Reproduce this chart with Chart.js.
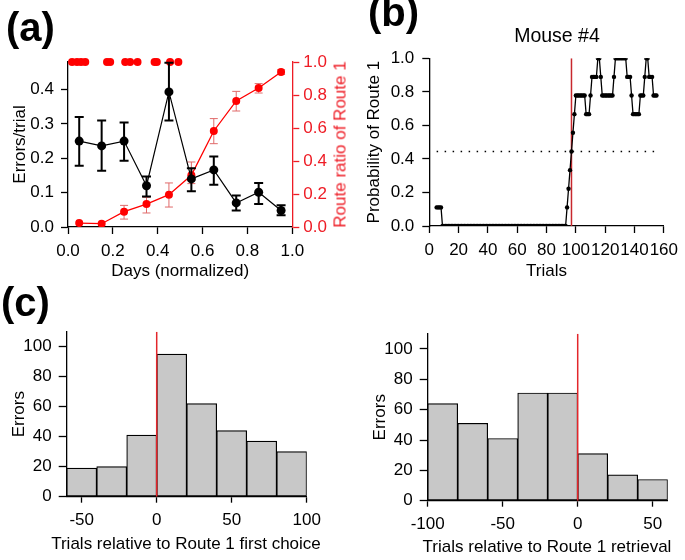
<!DOCTYPE html>
<html>
<head>
<meta charset="utf-8">
<script src="https://cdn.jsdelivr.net/npm/chart.js@4.4.0/dist/chart.umd.min.js"></script>
<style>
  body { margin: 0; background: #fff; }
  #fig { position: relative; width: 685px; height: 560px; overflow: hidden; font-family: 'Liberation Sans', Arial, sans-serif; color: #000; }
  #fig canvas { position: absolute; left: 0; top: 0; }
  .panel { position: absolute; font-weight: bold; font-size: 40px; line-height: 1; }
  .note { position: absolute; line-height: 1; white-space: nowrap; text-align: center; font-size: 17px; }
  #ratioTitle { left: 240px; top: 136px; width: 200px; color: #ee1c25; transform: rotate(-90deg); }
  #mouseTitle { left: 497px; top: 26px; width: 120px; font-size: 19.5px; }
  #firstTitle { left: 36px; top: 535px; width: 300px; }
  #retrievalTitle { left: 397px; top: 538px; width: 300px; }
</style>
</head>
<body>
<div id="fig">
  <canvas id="chartA" width="685" height="560"></canvas>
  <canvas id="chartB" width="685" height="560"></canvas>
  <canvas id="chartC1" width="685" height="560"></canvas>
  <canvas id="chartC2" width="685" height="560"></canvas>
  <div class="panel" style="left:6px;top:7px">(a)</div>
  <div class="panel" style="left:368px;top:-8px">(b)</div>
  <div class="panel" style="left:1px;top:282px">(c)</div>
  <div class="note" id="ratioTitle">Route ratio of Route 1</div>
  <div class="note" id="mouseTitle">Mouse #4</div>
  <div class="note" id="firstTitle">Trials relative to Route 1 first choice</div>
  <div class="note" id="retrievalTitle">Trials relative to Route 1 retrieval</div>
</div>
<script>
// ---- panel (a): errors and route ratio over normalized days
const dayBins = [0.05, 0.15, 0.25, 0.35, 0.45, 0.55, 0.65, 0.75, 0.85, 0.95];
const errorsPerTrial = [0.25, 0.236, 0.25, 0.12, 0.393, 0.14, 0.166, 0.07, 0.101, 0.048];
const errorsLow = [0.178, 0.164, 0.193, 0.089, 0.31, 0.104, 0.123, 0.048, 0.067, 0.034];
const errorsHigh = [0.32, 0.31, 0.304, 0.147, 0.478, 0.171, 0.205, 0.092, 0.128, 0.063];
const routeRatio = [0.024, 0.02, 0.093, 0.139, 0.196, 0.313, 0.582, 0.764, 0.842, 0.939];
const routeLow = [null, null, 0.048, 0.085, 0.121, 0.263, 0.505, 0.703, 0.812, 0.925];
const routeHigh = [null, null, 0.131, 0.18, 0.267, 0.394, 0.657, 0.822, 0.869, 0.953];
const firstChoiceDays = [0.018, 0.04, 0.058, 0.077, 0.174, 0.188, 0.255, 0.277, 0.31, 0.386, 0.396, 0.455, 0.492];
const daysTicks = [0, 0.2, 0.4, 0.6, 0.8, 1.0];
const errTrialTicks = [0, 0.1, 0.2, 0.3, 0.4];
const ratioTicks = [0, 0.2, 0.4, 0.6, 0.8, 1.0];

// ---- panel (b): probability of Route 1 for mouse #4, trials 5..155
const firstTrial = 5;
const routeProb = [
  0.111, 0.111, 0.111, 0.111,
  0, 0, 0, 0, 0, 0, 0, 0, 0, 0, 0, 0, 0, 0, 0, 0, 0,
  0, 0, 0, 0, 0, 0, 0, 0, 0, 0, 0, 0, 0, 0, 0, 0, 0,
  0, 0, 0, 0, 0, 0, 0, 0, 0, 0, 0, 0, 0, 0, 0, 0, 0,
  0, 0, 0, 0, 0, 0, 0, 0, 0, 0, 0, 0, 0, 0, 0, 0, 0,
  0, 0, 0, 0, 0, 0, 0, 0, 0, 0, 0, 0, 0, 0, 0, 0, 0,
  0.111, 0.222, 0.333, 0.444, 0.556, 0.667,
  0.778, 0.778, 0.778, 0.778, 0.778, 0.778, 0.778,
  0.667, 0.667, 0.667, 0.778,
  0.889, 0.889, 0.889, 0.889, 1, 1, 0.889,
  0.778, 0.778, 0.778, 0.778, 0.778, 0.778, 0.778, 0.778, 0.889,
  1, 1, 1, 1, 1, 1, 1, 1,
  0.889, 0.889, 0.889, 0.778,
  0.667, 0.667, 0.667, 0.667, 0.667,
  0.778, 0.778, 0.778, 0.889, 1, 1,
  0.889, 0.889, 0.889, 0.778, 0.778, 0.778
];
const switchTrial = 97;
const threshold = 0.444;
const trialTicks = [0, 20, 40, 60, 80, 100, 120, 140, 160];
const probTicks = [0, 0.2, 0.4, 0.6, 0.8, 1.0];

// ---- panel (c): error histograms
const binEdgesFirst = [-60, -40, -20, 0, 20, 40, 60, 80, 100];
const errorsFirst = [19, 20, 41, 95, 62, 44, 37, 30];
const binEdgesRetrieval = [-100, -80, -60, -40, -20, 0, 20, 40, 60];
const errorsRetrieval = [64, 51, 41, 71, 71, 31, 17, 14];
const firstTicks = [-50, 0, 50, 100];
const retrievalTicks = [-100, -50, 0, 50];
const errorsTicks = [0, 20, 40, 60, 80, 100];

const fontFamily = "'Liberation Sans', Arial, sans-serif";
Chart.defaults.font.family = fontFamily;
Chart.defaults.font.size = 17;
Chart.defaults.color = '#000';

// draws error bars under a dataset, from errLow/errHigh on the dataset
const errorBars = {
    id: 'errorBars',
    beforeDatasetDraw(chart, args) {
        const ds = chart.data.datasets[args.index];
        if (!ds.errLow) return;
        const yScale = chart.scales[ds.yAxisID];
        const ctx = chart.ctx;
        ctx.save();
        ctx.strokeStyle = ds.errColor;
        ctx.lineWidth = ds.errWidth;
        args.meta.data.forEach((pt, i) => {
            if (ds.errLow[i] == null) return;
            const lo = yScale.getPixelForValue(ds.errLow[i]);
            const hi = yScale.getPixelForValue(ds.errHigh[i]);
            ctx.beginPath();
            ctx.moveTo(pt.x, lo); ctx.lineTo(pt.x, hi);
            ctx.moveTo(pt.x - ds.errCap, lo); ctx.lineTo(pt.x + ds.errCap, lo);
            ctx.moveTo(pt.x - ds.errCap, hi); ctx.lineTo(pt.x + ds.errCap, hi);
            ctx.stroke();
        });
        ctx.restore();
    }
};

// one axis with fixed thickness so the plot areas land where they should
function axis(cfg) {
    const color = cfg.color || '#000';
    return {
        type: 'linear',
        position: cfg.position,
        min: cfg.min,
        max: cfg.max,
        offset: false,
        afterBuildTicks: s => { s.ticks = cfg.ticks.map(v => ({ value: v })); },
        afterFit: s => {
            if (s.isHorizontal()) s.height = cfg.size;
            else s.width = cfg.size;
        },
        ticks: {
            padding: cfg.pad,
            color: color,
            font: { family: fontFamily, size: 17 },
            autoSkip: false,
            maxRotation: 0,
            callback: v => cfg.digits ? v.toFixed(cfg.digits) : String(v)
        },
        grid: { drawOnChartArea: false, offset: false, color: color, tickLength: cfg.tick || 7, tickWidth: 1.3 },
        border: { color: color, width: 1.3 },
        title: {
            display: !!cfg.title,
            text: cfg.title,
            color: color,
            padding: 0,
            font: { family: fontFamily, size: 17 }
        }
    };
}

const baseOptions = {
    responsive: false,
    animation: false,
    devicePixelRatio: 1,
    events: [],
    plugins: { legend: { display: false }, tooltip: { enabled: false } }
};

// panel (a)
new Chart(document.getElementById('chartA'), {
    type: 'line',
    data: {
        datasets: [
            {
                data: dayBins.map((d, i) => ({ x: d, y: errorsPerTrial[i] })),
                yAxisID: 'y',
                borderColor: '#000',
                borderWidth: 1.2,
                pointRadius: 4.5,
                pointBorderWidth: 0,
                pointBackgroundColor: '#000',
                errLow: errorsLow, errHigh: errorsHigh,
                errColor: '#000', errWidth: 2, errCap: 4.5
            },
            {
                data: dayBins.map((d, i) => ({ x: d, y: routeRatio[i] })),
                yAxisID: 'y1',
                borderColor: '#f00',
                borderWidth: 1.3,
                pointRadius: 4,
                pointBorderWidth: 0,
                pointBackgroundColor: '#f00',
                errLow: routeLow, errHigh: routeHigh,
                errColor: '#e06a6a', errWidth: 1, errCap: 4
            },
            {
                data: firstChoiceDays.map(d => ({ x: d, y: 1 })),
                yAxisID: 'y1',
                showLine: false,
                pointRadius: 4,
                pointBorderWidth: 0,
                pointBackgroundColor: '#f00',
                clip: false
            }
        ]
    },
    options: {
        ...baseOptions,
        layout: { padding: { left: 9.8, right: 342.7, top: 62, bottom: 278.8 } },
        scales: {
            x: axis({ position: 'bottom', min: 0, max: 1, ticks: daysTicks, digits: 1, size: 54.2, pad: 7, title: 'Days (normalized)' }),
            y: axis({ position: 'left', min: 0, max: 0.48, ticks: errTrialTicks, digits: 1, size: 58.2, pad: 7, title: 'Errors/trial' }),
            y1: axis({ position: 'right', min: 0, max: 1, ticks: ratioTicks, digits: 1, size: 50, pad: 4, color: '#ee1c25' })
        }
    },
    plugins: [errorBars]
});

// panel (b)
new Chart(document.getElementById('chartB'), {
    type: 'line',
    data: {
        datasets: [
            {
                data: routeProb.map((p, i) => ({ x: firstTrial + i, y: p })),
                borderColor: '#000',
                borderWidth: 1.3,
                pointRadius: 2.2,
                pointBorderWidth: 0,
                pointBackgroundColor: '#000'
            },
            {
                data: [{ x: switchTrial, y: 0 }, { x: switchTrial, y: 1 }],
                borderColor: '#c8282d',
                borderWidth: 1.5,
                pointRadius: 0
            },
            {
                data: [{ x: firstTrial, y: threshold }, { x: firstTrial + routeProb.length - 1, y: threshold }],
                borderColor: '#000',
                borderWidth: 1.5,
                borderDash: [1.5, 6.5],
                pointRadius: 0
            }
        ]
    },
    options: {
        ...baseOptions,
        layout: { padding: { left: 363.8, right: 15.7, top: 58.3, bottom: 278.1 } },
        scales: {
            x: axis({ position: 'bottom', min: 0, max: 160, ticks: trialTicks, size: 55.9, pad: 7, title: 'Trials' }),
            y: axis({ position: 'left', min: 0, max: 1, ticks: probTicks, digits: 1, size: 65.5, pad: 8, title: 'Probability of Route 1' })
        }
    }
});

// panel (c), both histograms (their long x titles are html notes so they are not squeezed)
function histogram(id, edges, counts, xTicks, pad, yAxisSize, xAxisSize) {
    const bars = counts.map((c, i) => ({ x: (edges[i] + edges[i + 1]) / 2, y: c }));
    new Chart(document.getElementById(id), {
        type: 'bar',
        data: {
            datasets: [
                {
                    type: 'line',
                    data: [{ x: 0, y: 0 }, { x: 0, y: 110 }],
                    borderColor: '#e3262b',
                    borderWidth: 1.5,
                    pointRadius: 0
                },
                {
                    data: bars,
                    backgroundColor: '#c8c8c8',
                    borderColor: '#000',
                    borderWidth: 1.2,
                    borderSkipped: false,
                    barPercentage: 1,
                    categoryPercentage: 1
                }
            ]
        },
        options: {
            ...baseOptions,
            layout: { padding: pad },
            scales: {
                x: axis({ position: 'bottom', min: edges[0], max: edges[edges.length - 1], ticks: xTicks, size: xAxisSize, pad: 7, tick: 6 }),
                y: axis({ position: 'left', min: 0, max: 110, ticks: errorsTicks, size: yAxisSize, pad: 7, tick: 8, title: 'Errors' })
            }
        }
    });
}

histogram('chartC1', binEdgesFirst, errorsFirst, firstTicks,
    { left: 8.8, right: 378.3, top: 331.7, bottom: 6.5 }, 57.9, 56.8);
histogram('chartC2', binEdgesRetrieval, errorsRetrieval, retrievalTicks,
    { left: 370.3, right: 17.3, top: 333.8, bottom: 3.1 }, 57.4, 56.2);
</script>
</body>
</html>
